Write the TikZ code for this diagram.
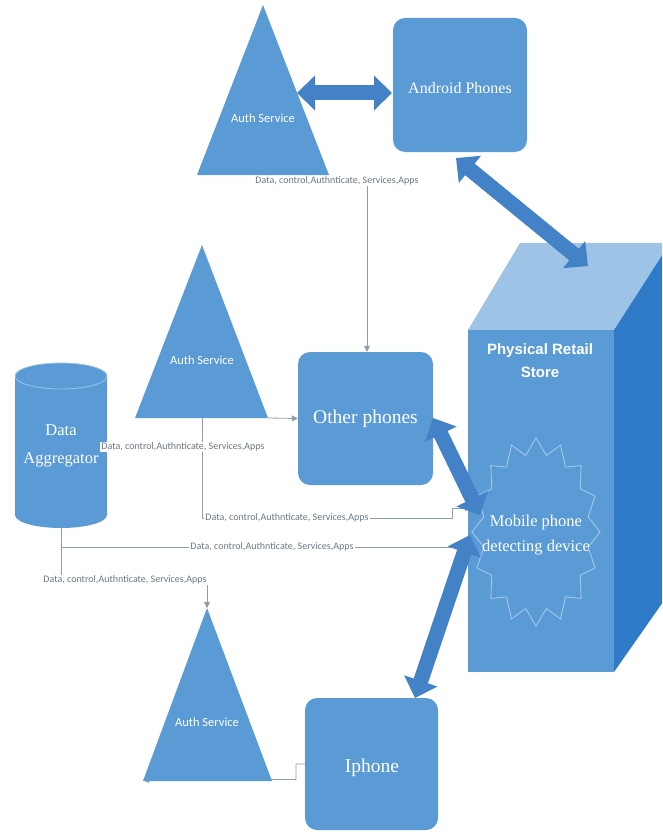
\documentclass[tikz,border=0pt]{standalone}
\usepackage{fontspec}
\setmainfont{Liberation Serif}
\newfontfamily\lblfont{Carlito}
\newfontfamily\boldsans{Liberation Sans}
\usetikzlibrary{arrows.meta}
\definecolor{boxblue}{HTML}{5B9BD5}
\definecolor{arrowblue}{HTML}{4382C6}
\definecolor{storetop}{HTML}{9DC3E6}
\definecolor{storeside}{HTML}{2F7BC8}
\definecolor{linegray}{HTML}{8C9DB0}
\definecolor{lbltext}{HTML}{6B7785}
\definecolor{sealline}{HTML}{A9CBEA}
\tikzset{
  box/.style={fill=boxblue, rounded corners=12pt, text=white, inner sep=0pt, align=center},
  tri/.style={fill=boxblue},
  conn/.style={draw=linegray, line width=0.8pt, -{Triangle[width=6pt,length=6pt]}},
  blockarrow/.style={draw=arrowblue, line width=15pt, {Triangle[width=34pt,length=18pt]}-{Triangle[width=34pt,length=18pt]}},
  lbl/.style={fill=white, inner sep=1pt, text=lbltext, font=\lblfont\fontsize{10}{11}\selectfont},
  authtext/.style={text=white, font=\lblfont\fontsize{12.5}{14}\selectfont},
  serifw/.style={text=white, align=center}
}
\begin{document}
\begin{tikzpicture}[x=1pt,y=-1pt]
\useasboundingbox (0,0) rectangle (662,832);
\clip (0,0) rectangle (662,832);

% ---- store (3D box)
\fill[storetop] (468,330) -- (520,243) -- (670,243) -- (614,330) -- cycle;
\fill[storeside] (614,330) -- (670,243) -- (670,592) -- (614,672) -- cycle;
\fill[boxblue] (468,330) rectangle (614,672);
\node[text=white, align=center, font=\boldsans\bfseries\fontsize{15}{23}\selectfont] (store) at (540,361) {Physical Retail\\Store};

% ---- mobile phone detecting device (seal)
\draw[sealline, line width=0.8pt] plot[samples at={0,1,...,31}, variable=\k]
  ({536+64*(1-0.17*mod(\k,2))*cos(\k*11.25+90)}, {532+94*(1-0.17*mod(\k,2))*sin(\k*11.25+90)}) -- cycle;
\node[serifw, font=\fontsize{16.5}{25}\selectfont] (device) at (536,535) {Mobile phone\\detecting device};

% ---- named points
\coordinate (auth1apex) at (263,5);
\coordinate (auth1left) at (197,175);
\coordinate (auth1right) at (329,175);
\coordinate (auth2apex) at (202,245);
\coordinate (auth2left) at (135,418);
\coordinate (auth2right) at (268,418);
\coordinate (auth2bot) at (202,418);
\coordinate (auth3apex) at (207,608);
\coordinate (auth3left) at (143,780);
\coordinate (auth3leftb) at (143,781);
\coordinate (auth3right) at (272,781);
\coordinate (c1s) at (367,180);
\coordinate (c3a) at (452,518);
\coordinate (dev3) at (471,508);
\coordinate (dev4) at (472,547);
\coordinate (c5b) at (207,580);
\coordinate (c6a) at (296,779.5);
\coordinate (aggbot) at (61,528);

% ---- boxes
\node[box, minimum width=134pt, minimum height=134pt] (android) at (460,85) {};
\node[text=white, font=\fontsize{16}{18}\selectfont] (androidtxt) at (460,88) {Android Phones};
\node[box, minimum width=135pt, minimum height=133pt, font=\fontsize{19.5}{22}\selectfont] (other) at (365.5,418.5) {Other phones};
\node[box, minimum width=133pt, minimum height=132pt] (iphone) at (371.5,764) {};
\node[text=white, font=\fontsize{19.5}{22}\selectfont] (iphonetxt) at (372,768) {Iphone};

% ---- connectors (behind triangles)
\draw[conn] (c1s) -- (c1s |- other.north);
\draw[conn] (auth2right) -- (other.west);
\draw[conn] (auth2bot) |- (c3a) |- (dev3);
\draw[conn] (aggbot) |- (dev4);
\draw[conn] (aggbot) |- (c5b) -- (auth3apex);
\draw[conn] (iphone.west) -| (c6a) -- (auth3left);

% ---- triangles
\fill[tri] (auth1apex) -- (auth1right) -- (auth1left) -- cycle;
\node[authtext] (auth1) at (263,118) {Auth Service};
\fill[tri] (auth2apex) -- (auth2right) -- (auth2left) -- cycle;
\node[authtext] (auth2) at (202,360) {Auth Service};
\fill[tri] (auth3apex) -- (auth3right) -- (auth3leftb) -- cycle;
\node[authtext] (auth3) at (207,722) {Auth Service};

% ---- data aggregator cylinder
\fill[boxblue] (15,376) -- (15,515) arc[start angle=180, end angle=0, x radius=46, y radius=13] -- (107,376) -- cycle;
\fill[boxblue] (61,376) ellipse[x radius=46, y radius=13];
\draw[storetop, line width=0.8pt] (61,376) ellipse[x radius=46, y radius=13];
\node[serifw, font=\fontsize{16.5}{28}\selectfont] (agg) at (61,446) {Data\\Aggregator};

% ---- labels
\node[lbl] (l1) at (337,181) {Data, control,Authnticate, Services,Apps};
\node[lbl] (l2) at (183,447) {Data, control,Authnticate, Services,Apps};
\node[lbl] (l3) at (287,518) {Data, control,Authnticate, Services,Apps};
\node[lbl] (l4) at (272,547) {Data, control,Authnticate, Services,Apps};
\node[lbl] (l5) at (125,580) {Data, control,Authnticate, Services,Apps};

% ---- block arrows
\coordinate (b1a) at (297,93);
\coordinate (b1b) at (392,93);
\coordinate (b2a) at (456,158);
\coordinate (b2b) at (588,266);
\coordinate (b3a) at (433,418);
\coordinate (b3b) at (480,515);
\coordinate (b4a) at (415,698);
\coordinate (b4b) at (470,535);
\draw[blockarrow] (b1a) -- (b1b);
\draw[blockarrow] (b2a) -- (b2b);
\draw[blockarrow] (b3a) -- (b3b);
\draw[blockarrow] (b4a) -- (b4b);
\end{tikzpicture}
\end{document}
